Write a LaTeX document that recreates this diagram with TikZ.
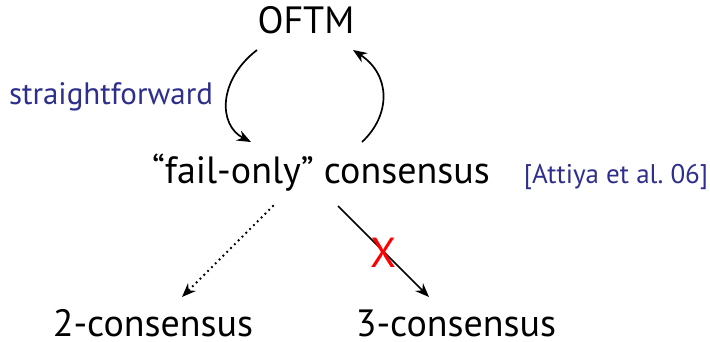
\documentclass[tikz,border=0pt]{standalone}
\usepackage{fontspec}
\setmainfont{PT Sans}
\usetikzlibrary{arrows.meta,calc}
\definecolor{refblue}{RGB}{46,46,140}
\tikzset{
  big/.style={font=\fontsize{38}{42}\selectfont, inner sep=0pt, anchor=base},
  small/.style={text=refblue, inner sep=0pt, anchor=base},
  link/.style={line width=1.7pt, -{Stealth[length=14pt,width=11pt]}},
  dots/.style={line width=2.6pt, line cap=round, dash pattern=on 0pt off 5.4pt},
}
\begin{document}
\begin{tikzpicture}[x=1pt,y=-1pt]
\useasboundingbox (0,0) rectangle (710,341);
\node[big] (oftm) at (306,33) {OFTM};
\node[big] (fail) at (321,183) {“fail-only” consensus};
\node[small, font=\fontsize{27}{30}\selectfont] (cite) at (616,183) {[Attiya et al.~06]};
\node[small, font=\fontsize{31}{34}\selectfont] (sf) at (111,104) {straightforward};
\node[big] (two) at (153,336) {2-consensus};
\node[big] (three) at (456,336) {3-consensus};
% round trip between OFTM and fail-only consensus
\draw[link] ($(oftm.base)+(-49,17)$) .. controls ($(oftm.base)+(-88,47)$) and ($(fail.base)+(-103,-58)$) .. ($(fail.base)+(-70,-41)$);
\draw[link] ($(fail.base)+(41,-41)$) .. controls ($(fail.base)+(70,-68)$) and ($(oftm.base)+(85,42)$) .. ($(oftm.base)+(47,17)$);
% reductions to k-consensus
\draw[dots] ($(fail.base)+(-48,23)$) -- ($(two.base)+(34,-44)$);
\draw[line width=1.7pt, -{Stealth[length=14pt,width=11pt]}] ($(two.base)+(35,-45)$) -- ($(two.base)+(29,-39)$);
\draw[link] ($(fail.base)+(17,23)$) -- ($(three.base)+(-27,-39)$);
\node[font=\fontsize{42}{46}\selectfont, text=red, inner sep=0pt] (cross) at (383,253) {X};
\end{tikzpicture}
\end{document}
